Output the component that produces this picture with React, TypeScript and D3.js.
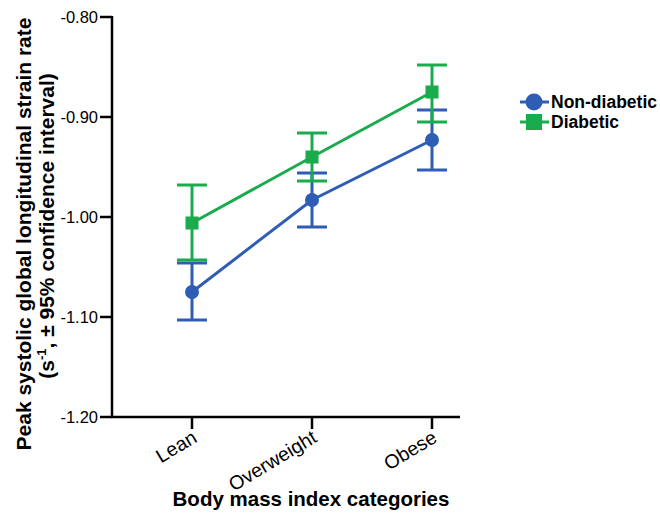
import React from 'react'
import * as d3 from 'd3'

const categories = ['Lean', 'Overweight', 'Obese']
const yTicks = [-0.8, -0.9, -1.0, -1.1, -1.2]

const nonDiabeticMean = [-1.075, -0.983, -0.923]
const nonDiabeticLow = [-1.103, -1.010, -0.953]
const nonDiabeticHigh = [-1.046, -0.956, -0.893]

const diabeticMean = [-1.006, -0.940, -0.875]
const diabeticLow = [-1.043, -0.964, -0.905]
const diabeticHigh = [-0.968, -0.916, -0.848]

const BLUE = '#2f5db6'
const GREEN = '#19ab4c'

export default function App() {
  const x = d3.scalePoint<string>().domain(categories).range([192, 432])
  const y = d3.scaleLinear().domain([-1.2, -0.8]).range([417, 17])

  const series = [
    {name: 'Non-diabetic', color: BLUE, shape: 'circle', mean: nonDiabeticMean, lo: nonDiabeticLow, hi: nonDiabeticHigh},
    {name: 'Diabetic', color: GREEN, shape: 'square', mean: diabeticMean, lo: diabeticLow, hi: diabeticHigh},
  ]

  const line = d3.line<number>()
    .x((d, i) => x(categories[i]) as number)
    .y(d => y(d))

  const capW = 15
  const fontFam = 'Arial, "Liberation Sans", sans-serif'

  return (
    <svg width={660} height={514} style={{position: 'absolute', left: 0, top: 0}} fontFamily={fontFam}>
      {/* axes */}
      <line x1={112} x2={112} y1={16} y2={418} stroke="#000" strokeWidth={2.5} />
      <line x1={111} x2={460} y1={417} y2={417} stroke="#000" strokeWidth={2.5} />
      {yTicks.map(t => (
        <g key={t}>
          <line x1={100} x2={112} y1={y(t)} y2={y(t)} stroke="#000" strokeWidth={2.5} />
          <text x={98} y={y(t)} dy="0.36em" textAnchor="end" fontSize={16.5}>{t.toFixed(2)}</text>
        </g>
      ))}
      {categories.map(c => (
        <g key={c}>
          <line x1={x(c)} x2={x(c)} y1={417} y2={429} stroke="#000" strokeWidth={2.5} />
          <text transform={`translate(${(x(c) as number) - 1},${429}) rotate(-31)`} textAnchor="end" fontSize={19.5} dy="0.72em">{c}</text>
        </g>
      ))}

      {/* axis titles */}
      <text transform="translate(23,234) rotate(-90)" textAnchor="middle" fontSize={21} fontWeight="bold" dy="0.36em">
        Peak systolic global longitudinal strain rate
      </text>
      <text transform="translate(46,226) rotate(-90)" textAnchor="middle" fontSize={21} fontWeight="bold" dy="0.36em">
        (s<tspan fontSize={13} dy="-8">-1</tspan><tspan dy="8">, ± 95% confidence interval)</tspan>
      </text>
      <text x={311} y={506} textAnchor="middle" fontSize={20.5} fontWeight="bold">Body mass index categories</text>

      {/* series */}
      {series.map(s => (
        <g key={s.name}>
          <path d={line(s.mean) || ''} fill="none" stroke={s.color} strokeWidth={3} />
          {s.mean.map((m, i) => {
            const cx = x(categories[i]) as number
            return (
              <g key={i}>
                <line x1={cx} x2={cx} y1={y(s.lo[i])} y2={y(s.hi[i])} stroke={s.color} strokeWidth={3} />
                <line x1={cx - capW} x2={cx + capW} y1={y(s.lo[i])} y2={y(s.lo[i])} stroke={s.color} strokeWidth={3} />
                <line x1={cx - capW} x2={cx + capW} y1={y(s.hi[i])} y2={y(s.hi[i])} stroke={s.color} strokeWidth={3} />
                {s.shape === 'circle'
                  ? <circle cx={cx} cy={y(m)} r={7} fill={s.color} />
                  : <rect x={cx - 6.5} y={y(m) - 6.5} width={13} height={13} fill={s.color} />}
              </g>
            )
          })}
        </g>
      ))}

      {/* legend */}
      {series.map((s, i) => {
        const ly = 102 + i * 20
        return (
          <g key={s.name}>
            <line x1={520} x2={549} y1={ly} y2={ly} stroke={s.color} strokeWidth={3} />
            {s.shape === 'circle'
              ? <circle cx={534} cy={ly} r={8.5} fill={s.color} />
              : <rect x={526} y={ly - 8} width={16} height={16} fill={s.color} />}
            <text x={551} y={ly} dy="0.36em" fontSize={17.5} fontWeight="bold">{s.name}</text>
          </g>
        )
      })}
    </svg>
  )
}
